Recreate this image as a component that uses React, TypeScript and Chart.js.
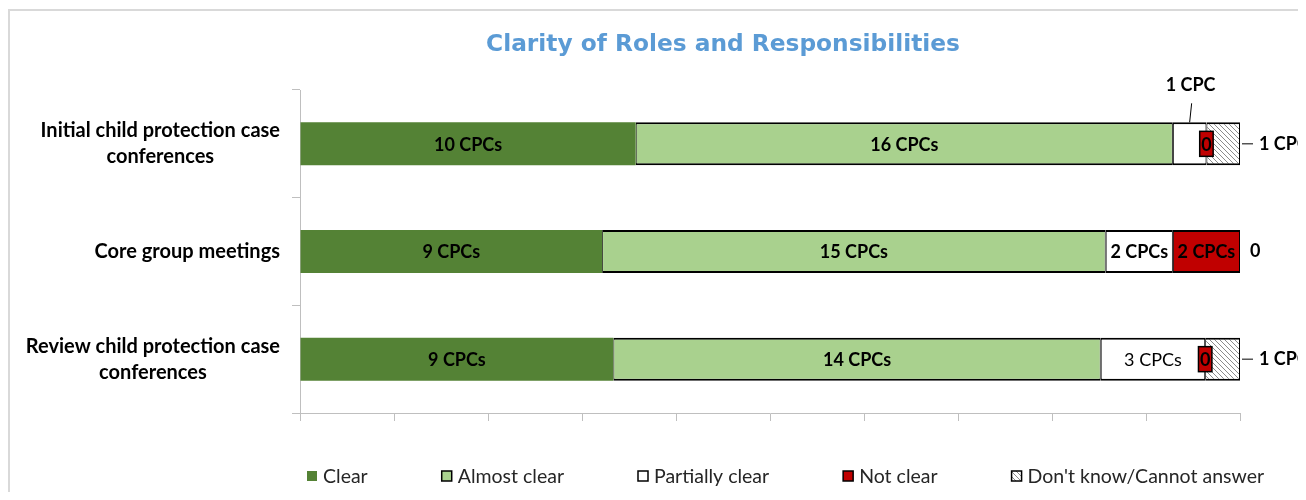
import { useEffect, useRef } from 'react';
import { Chart, registerables } from 'chart.js';

Chart.register(...registerables);

const chartTitle = 'Clarity of Roles and Responsibilities';
const categoryLines: string[][] = [
  ['Initial child protection case', 'conferences'],
  ['Core group meetings'],
  ['Review child protection case', 'conferences'],
];
const categories = categoryLines.map((l) => l.join(' '));
const seriesNames = ['Clear', 'Almost clear', 'Partially clear', 'Not clear', "Don't know/Cannot answer"];
const clearCounts = [10, 9, 9];
const almostClearCounts = [16, 15, 14];
const partiallyClearCounts = [1, 2, 3];
const notClearCounts = [0, 2, 0];
const dontKnowCounts = [1, 0, 1];
const xTickStep = 0.1;

const allCounts = [clearCounts, almostClearCounts, partiallyClearCounts, notClearCounts, dontKnowCounts];
const totals = categories.map((_, i) => allCounts.reduce((s, arr) => s + arr[i], 0));

// style: labels drawn in regular weight (series index, category index)
const regularWeightLabels = [[2, 2]];

const FONT = 'Lato, "Open Sans", sans-serif';
const TITLE_FONT = '"DejaVu Sans", Verdana, sans-serif';

function labelText(n: number) {
  if (n === 0) return '0';
  if (n === 1) return '1 CPC';
  return `${n} CPCs`;
}

function makeHatch(): CanvasPattern | string {
  const c = document.createElement('canvas');
  c.width = 5;
  c.height = 5;
  const g = c.getContext('2d');
  if (!g) return '#ffffff';
  g.fillStyle = '#ffffff';
  g.fillRect(0, 0, 5, 5);
  g.strokeStyle = '#8c8c8c';
  g.lineWidth = 1;
  g.beginPath();
  g.moveTo(-1, -1);
  g.lineTo(6, 6);
  g.moveTo(-1, 4);
  g.lineTo(1, 6);
  g.moveTo(4, -1);
  g.lineTo(6, 1);
  g.stroke();
  const p = g.createPattern(c, 'repeat');
  return p || '#ffffff';
}

const textPlugin = {
  id: 'customText',
  afterDraw(chart: any) {
    const ctx: CanvasRenderingContext2D = chart.ctx;
    const area = chart.chartArea;
    ctx.save();

    // Title
    ctx.font = `bold 23.3px ${TITLE_FONT}`;
    ctx.fillStyle = '#5B9BD5';
    ctx.textAlign = 'center';
    ctx.textBaseline = 'middle';
    ctx.fillText(chartTitle, 715, 37);

    // Category labels
    const yScale = chart.scales.y;
    ctx.font = `bold 20px ${FONT}`;
    ctx.fillStyle = '#000000';
    categoryLines.forEach((lines, i) => {
      const cy = yScale.getPixelForValue(i);
      const maxW = Math.max(...lines.map((l) => ctx.measureText(l).width));
      const cx = area.left - 20 - maxW / 2;
      const lh = 26;
      lines.forEach((l, j) => {
        ctx.fillText(l, cx, cy + (j - (lines.length - 1) / 2) * lh);
      });
    });

    // Data labels
    const lastDs = chart.data.datasets.length - 1;
    chart.data.datasets.forEach((ds: any, d: number) => {
      const meta = chart.getDatasetMeta(d);
      meta.data.forEach((el: any, i: number) => {
        const { x, y, base, height } = el.getProps(['x', 'y', 'base', 'height'], true);
        const count = allCounts[d][i];
        const txt = labelText(count);
        const regular = regularWeightLabels.some(([s, c]) => s === d && c === i);
        ctx.font = `${regular ? '' : 'bold '}18px ${FONT}`;
        ctx.fillStyle = '#000000';
        ctx.strokeStyle = '#000000';
        const start = Math.min(x, base);
        const end = Math.max(x, base);
        const w = end - start;
        const top = y - height / 2;
        if (d === lastDs) {
          ctx.textAlign = 'left';
          ctx.textBaseline = 'middle';
          if (count === 0) {
            ctx.fillText(txt, end + 10, y);
          } else {
            ctx.lineWidth = 1;
            ctx.beginPath();
            ctx.moveTo(end + 2, y);
            ctx.lineTo(end + 13, y);
            ctx.stroke();
            ctx.fillText(txt, end + 19, y);
          }
        } else if (count === 0) {
          const tw = ctx.measureText(txt).width;
          const bw = tw + 3;
          const bh = 25;
          ctx.fillStyle = ds.backgroundColor;
          ctx.fillRect(end - bw / 2, y - bh / 2, bw, bh);
          ctx.lineWidth = 1.5;
          ctx.strokeRect(end - bw / 2, y - bh / 2, bw, bh);
          ctx.fillStyle = '#000000';
          ctx.textAlign = 'center';
          ctx.textBaseline = 'middle';
          ctx.fillText(txt, end, y + 1);
        } else if (w < 45) {
          const cx = (start + end) / 2;
          ctx.lineWidth = 1;
          ctx.beginPath();
          ctx.moveTo(cx, top);
          ctx.lineTo(cx + 2, top - 19);
          ctx.stroke();
          ctx.textAlign = 'center';
          ctx.textBaseline = 'middle';
          ctx.fillText(txt, cx + 1, top - 37);
        } else {
          ctx.textAlign = 'center';
          ctx.textBaseline = 'middle';
          ctx.fillText(txt, (start + end) / 2, y + 1);
        }
      });
    });

    // Legend
    let lx = area.left + 7;
    const ly = 468;
    ctx.textAlign = 'left';
    ctx.textBaseline = 'middle';
    chart.data.datasets.forEach((ds: any) => {
      ctx.fillStyle = ds.backgroundColor;
      ctx.fillRect(lx, ly - 5, 10, 10);
      if (ds.legendBorder) {
        ctx.strokeStyle = '#000000';
        ctx.lineWidth = 1.5;
        ctx.strokeRect(lx, ly - 5, 10, 10);
      }
      ctx.font = `19.5px ${FONT}`;
      ctx.fillStyle = '#262626';
      ctx.fillText(ds.label, lx + 16, ly + 1);
      lx += 16 + ctx.measureText(ds.label).width + 74;
    });

    ctx.restore();
  },
};

export default function App() {
  const ref = useRef<HTMLCanvasElement | null>(null);

  useEffect(() => {
    if (!ref.current) return;
    const hatch = makeHatch();
    const colors = ['#548235', '#A9D18E', '#FFFFFF', '#C00000', hatch];
    const bw = { top: 2, bottom: 2, left: 1, right: 1 };
    const datasets = allCounts.map((counts, d) => ({
      label: seriesNames[d],
      data: counts.map((c, i) => c / totals[i]),
      backgroundColor: colors[d],
      borderColor: '#000000',
      borderWidth: d === 0 ? 0 : bw,
      borderSkipped: false,
      legendBorder: d !== 0,
      barPercentage: 0.4,
      categoryPercentage: 1,
    }));

    const chart = new Chart(ref.current, {
      type: 'bar',
      data: { labels: categories, datasets: datasets as any },
      plugins: [textPlugin as any],
      options: {
        indexAxis: 'y',
        animation: false,
        responsive: false,
        events: [],
        layout: { padding: { top: 82, right: 66, left: 0, bottom: 0 } },
        plugins: {
          legend: { display: false },
          title: { display: false },
          tooltip: { enabled: false },
        },
        scales: {
          x: {
            type: 'linear',
            stacked: true,
            min: 0,
            max: 1,
            ticks: { display: false, stepSize: xTickStep },
            grid: { drawOnChartArea: false, drawTicks: true, tickLength: 8, color: '#bfbfbf' },
            border: { display: true, color: '#bfbfbf', width: 1 },
            afterFit: (s: any) => {
              s.height = 79;
            },
          },
          y: {
            type: 'category',
            stacked: true,
            offset: true,
            ticks: { display: false },
            grid: { offset: true, drawOnChartArea: false, drawTicks: true, tickLength: 8, color: '#bfbfbf' },
            border: { display: true, color: '#bfbfbf', width: 1 },
            afterFit: (s: any) => {
              s.width = 292;
            },
          },
        },
      } as any,
    });
    return () => chart.destroy();
  }, []);

  return (
    <div style={{ width: 1298, height: 484, overflow: 'hidden', position: 'relative' }}>
      <div
        style={{
          position: 'absolute',
          left: 0,
          top: 1,
          width: 1330,
          height: 520,
          border: '2px solid #d9d9d9',
          boxSizing: 'border-box',
        }}
      />
      <canvas ref={ref} width={1298} height={484} style={{ position: 'absolute', left: 0, top: 0, display: 'block' }} />
    </div>
  );
}
